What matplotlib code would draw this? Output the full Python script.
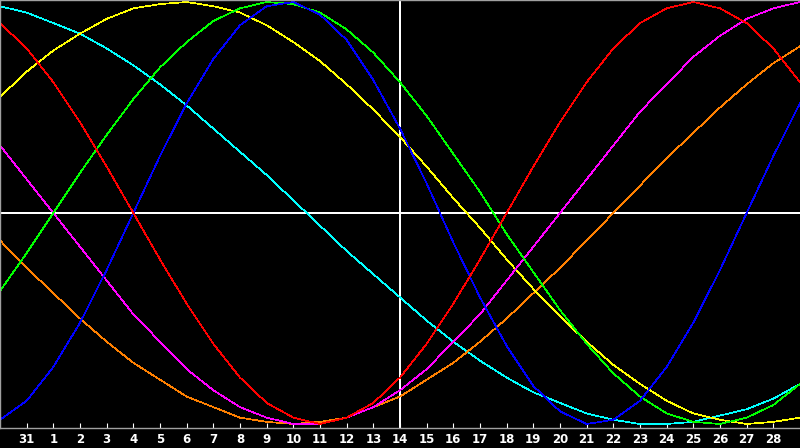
import numpy as np
import matplotlib
matplotlib.use("Agg")
import matplotlib.pyplot as plt

# day labels under the ticks (positions 1..29), position 15 is "today"
day_labels = ["31"] + [str(d) for d in range(1, 29)]
today_pos = 15

# cycle values in percent, one per day position 0..30
red = [90, 78, 62, 43, 22, 0, -22, -43, -62, -78, -90, -97, -100, -97, -90, -78,
       -62, -43, -22, 0, 22, 43, 62, 78, 90, 97, 100, 97, 90, 78, 62]
blue = [-98, -89, -73, -52, -27, 0, 27, 52, 73, 89, 98, 100, 94, 82, 63, 40,
        14, -14, -40, -63, -82, -94, -100, -98, -89, -73, -52, -27, 0, 27, 52]
green = [-37, -19, 0, 19, 37, 54, 69, 81, 91, 97, 100, 99, 95, 87, 76, 62,
         46, 28, 10, -10, -28, -46, -62, -76, -87, -95, -99, -100, -97, -91, -81]
magenta = [32, 16, 0, -16, -32, -48, -61, -74, -84, -92, -97, -100, -100, -97, -92, -84,
           -74, -61, -48, -32, -16, 0, 16, 32, 48, 61, 74, 84, 92, 97, 100]
yellow = [55, 67, 77, 85, 92, 97, 99, 100, 98, 95, 89, 81, 72, 61, 49, 36,
          22, 7, -7, -22, -36, -49, -61, -72, -81, -89, -95, -98, -100, -99, -97]
orange = [-13, -26, -38, -50, -61, -71, -79, -87, -92, -97, -99, -100, -99, -97, -92, -87,
          -79, -71, -61, -50, -38, -26, -13, 0, 13, 26, 38, 50, 61, 71, 79]
cyan = [98, 95, 90, 85, 78, 70, 61, 51, 40, 29, 18, 6, -6, -18, -29, -40,
        -51, -61, -70, -78, -85, -90, -95, -98, -100, -100, -99, -96, -93, -88, -81]

series = [
    (cyan, "#00ffff"),
    (orange, "#ff8000"),
    (yellow, "#ffff00"),
    (magenta, "#ff00ff"),
    (green, "#00ff00"),
    (blue, "#0000ff"),
    (red, "#ff0000"),
]

fig = plt.figure(figsize=(8, 4.48), dpi=100, facecolor="black")
ax = fig.add_axes([0, 20 / 448, 1, 428 / 448])
ax.set_facecolor("black")

x = np.arange(len(red))
ax.axhline(0, color="white", lw=1.44, antialiased=False, zorder=1)
ax.axvline(today_pos, color="white", lw=1.44, antialiased=False, zorder=1)

for vals, col in series:
    ax.plot(x, vals, color=col, lw=0.5, antialiased=False, zorder=2)

ax.set_xlim(0, 30)
ax.set_ylim(-101.9, 100.95)

ax.set_xticks(np.arange(1, 30))
ax.set_xticklabels(day_labels, color="white", fontsize=8.5, fontweight="bold",
                   family="DejaVu Sans")
ax.tick_params(axis="x", direction="in", length=3.6, width=0.8, color="white", pad=3.5)
ax.set_yticks([])

for side in ["left", "top", "bottom"]:
    ax.spines[side].set_color("#a0a0a0")
    ax.spines[side].set_linewidth(1.0)
ax.spines["right"].set_visible(False)

fig.savefig("out.png", dpi=100, facecolor="black")
